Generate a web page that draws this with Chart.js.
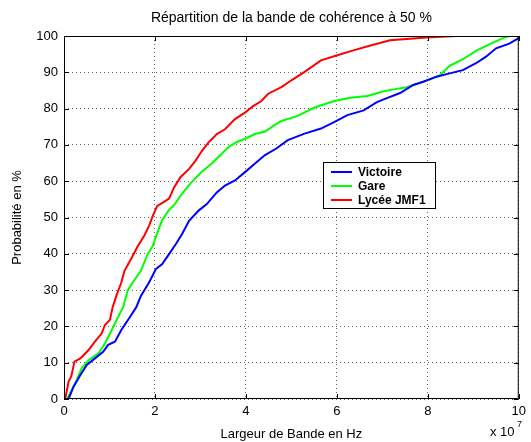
<!DOCTYPE html>
<html>
<head>
<meta charset="utf-8">
<script src="https://cdn.jsdelivr.net/npm/chart.js@4/dist/chart.umd.min.js"></script>
<style>
  html, body { margin: 0; padding: 0; background: #fff; }
  #wrap { width: 531px; height: 442px; }
</style>
</head>
<body>
<div id="wrap"><canvas id="cdf"></canvas></div>
<script>
// Répartition de la bande de cohérence à 50 % (x en unités de 1e7 Hz)
const victoireX = [0.1, 0.21, 0.36, 0.5, 0.68, 0.86, 0.97, 1.12, 1.26, 1.45, 1.59, 1.69, 1.87, 2.02, 2.16, 2.31, 2.46, 2.6, 2.75, 2.96, 3.14, 3.36, 3.54, 3.76, 3.98, 4.2, 4.42, 4.67, 4.92, 5.29, 5.65, 5.94, 6.23, 6.59, 6.88, 7.1, 7.39, 7.68, 7.9, 8.19, 8.48, 8.77, 9.06, 9.28, 9.5, 9.79, 9.97, 10];
const victoireY = [0, 3.4, 6.6, 9.4, 11.2, 13, 14.9, 15.8, 19, 22.6, 25.3, 28.4, 32.1, 35.8, 37.2, 39.9, 42.7, 45.5, 49.1, 51.9, 53.7, 56.9, 58.8, 60.2, 62.5, 64.9, 67.2, 69, 71.3, 73.1, 74.5, 76.3, 78.2, 79.5, 81.8, 82.9, 84.3, 86.5, 87.4, 88.8, 89.7, 90.6, 92.5, 94.3, 96.6, 97.9, 99.2, 99.6];

const gareX = [0.07, 0.25, 0.39, 0.54, 0.76, 0.9, 1.05, 1.19, 1.3, 1.4, 1.51, 1.69, 1.84, 1.95, 2.05, 2.16, 2.31, 2.42, 2.6, 2.78, 3.03, 3.25, 3.44, 3.62, 3.8, 3.98, 4.2, 4.42, 4.67, 4.78, 5.14, 5.51, 5.94, 6.3, 6.67, 7.03, 7.25, 7.54, 7.97, 8.26, 8.48, 8.77, 9.06, 9.35, 9.65, 9.79, 10];
const gareY = [0, 4.4, 8.5, 10.7, 12.6, 15.3, 19, 22.6, 25.3, 29.9, 32.1, 35.3, 39.9, 42.1, 45.7, 49.3, 52.1, 53.4, 56.6, 59.4, 62.6, 64.9, 67.2, 69.4, 70.8, 71.7, 73, 73.7, 75.8, 76.6, 78, 80.3, 82.1, 83, 83.5, 84.8, 85.3, 85.9, 87.7, 89.1, 91.8, 93.6, 95.9, 97.7, 99.4, 100, 100];

const lyceeX = [0, 0.03, 0.1, 0.16, 0.23, 0.36, 0.54, 0.68, 0.83, 0.9, 1.01, 1.07, 1.15, 1.26, 1.33, 1.51, 1.62, 1.76, 1.87, 1.95, 2.05, 2.2, 2.31, 2.42, 2.56, 2.75, 2.89, 3.03, 3.18, 3.36, 3.54, 3.76, 3.98, 4.16, 4.34, 4.49, 4.78, 5.0, 5.29, 5.65, 6.01, 6.38, 6.74, 7.17, 7.97, 8.63, 10];
const lyceeY = [0, 0.2, 4.8, 6.2, 10.3, 11.2, 13.5, 15.8, 18.1, 20.4, 21.8, 25.3, 28.4, 32.1, 35.3, 39.4, 42.1, 44.9, 47.7, 50.4, 53.2, 54.3, 55.2, 58.3, 61.1, 63.4, 65.6, 68.3, 70.7, 73, 74.3, 77.1, 78.9, 80.7, 82.1, 84.1, 85.9, 87.8, 90.1, 93.3, 94.7, 96.1, 97.4, 98.8, 99.6, 100, 100];

const seriesNames = ['Victoire', 'Gare', 'Lycée JMF1'];
const seriesColors = ['#0000ff', '#00ff00', '#ff0000'];
const xTicks = [0, 2, 4, 6, 8, 10];
const yTicks = [0, 10, 20, 30, 40, 50, 60, 70, 80, 90, 100];

function toPoints(xs, ys) {
    return xs.map((x, i) => ({ x: x, y: ys[i] }));
}

const FONT = '"Liberation Sans", Arial, Helvetica, sans-serif';

// box, inward ticks, title, legend, x 10^7
const matlabLook = {
    id: 'matlabLook',
    afterDraw(chart) {
        const ctx = chart.ctx;
        const a = chart.chartArea;
        const xs = chart.scales.x, ys = chart.scales.y;
        ctx.save();
        ctx.strokeStyle = '#000';
        ctx.lineWidth = 1;
        ctx.strokeRect(a.left + 0.5, a.top + 0.5, a.right - a.left - 1, a.bottom - a.top - 1);
        ctx.beginPath();
        xTicks.forEach(v => {
            const px = Math.round(xs.getPixelForValue(v)) + 0.5;
            ctx.moveTo(px, a.bottom); ctx.lineTo(px, a.bottom - 5);
            ctx.moveTo(px, a.top); ctx.lineTo(px, a.top + 5);
        });
        yTicks.forEach(v => {
            const py = Math.round(ys.getPixelForValue(v)) + 0.5;
            ctx.moveTo(a.left, py); ctx.lineTo(a.left + 5, py);
            ctx.moveTo(a.right, py); ctx.lineTo(a.right - 5, py);
        });
        ctx.stroke();

        // title
        ctx.fillStyle = '#000';
        ctx.font = '14px ' + FONT;
        ctx.textAlign = 'center';
        ctx.textBaseline = 'middle';
        ctx.fillText('Répartition de la bande de cohérence à 50 %', (a.left + a.right) / 2, 18);

        // exponent
        ctx.textAlign = 'left';
        ctx.font = '13px ' + FONT;
        ctx.fillText('x 10', 490, 432);
        ctx.font = '9px ' + FONT;
        ctx.fillText('7', 517, 425);

        // legend
        const lx = 323, ly = 162, lw = 112, lh = 46;
        ctx.fillStyle = '#fff';
        ctx.fillRect(lx, ly, lw, lh);
        ctx.strokeStyle = '#000';
        ctx.lineWidth = 1;
        ctx.strokeRect(lx + 0.5, ly + 0.5, lw, lh);
        ctx.font = 'bold 12px ' + FONT;
        ctx.textBaseline = 'middle';
        seriesNames.forEach((name, i) => {
            const y = ly + 10 + i * 14;
            ctx.strokeStyle = seriesColors[i];
            ctx.lineWidth = 2;
            ctx.beginPath();
            ctx.moveTo(lx + 8, y); ctx.lineTo(lx + 29, y);
            ctx.stroke();
            ctx.fillStyle = '#000';
            ctx.fillText(name, lx + 35, y + 1);
        });
        ctx.restore();
    }
};

new Chart(document.getElementById('cdf'), {
    type: 'line',
    data: {
        datasets: [
            { label: seriesNames[0], data: toPoints(victoireX, victoireY), borderColor: seriesColors[0] },
            { label: seriesNames[1], data: toPoints(gareX, gareY), borderColor: seriesColors[1] },
            { label: seriesNames[2], data: toPoints(lyceeX, lyceeY), borderColor: seriesColors[2] }
        ]
    },
    options: {
        responsive: true,
        maintainAspectRatio: false,
        animation: false,
        layout: { padding: { top: 36, right: 8, left: 0, bottom: 0 } },
        elements: {
            point: { radius: 0 },
            line: { borderWidth: 2, tension: 0, fill: false }
        },
        plugins: {
            legend: { display: false },
            title: { display: false },
            tooltip: { enabled: false }
        },
        scales: {
            x: {
                type: 'linear',
                min: 0, max: 10,
                afterBuildTicks: s => { s.ticks = xTicks.map(v => ({ value: v })); },
                afterFit: s => { s.height = 43; },
                grid: { color: '#666', lineWidth: 1, drawTicks: false },
                border: { display: false, dash: [1, 3] },
                ticks: { color: '#000', font: { family: FONT, size: 13 }, padding: 5, maxRotation: 0 },
                title: { display: true, text: 'Largeur de Bande en Hz', color: '#000', font: { family: FONT, size: 13 }, padding: { top: 2, bottom: 0 } }
            },
            y: {
                min: 0, max: 100,
                afterBuildTicks: s => { s.ticks = yTicks.map(v => ({ value: v })); },
                afterFit: s => { s.width = 64; },
                grid: { color: '#666', lineWidth: 1, drawTicks: false },
                border: { display: false, dash: [1, 3] },
                ticks: { color: '#000', font: { family: FONT, size: 13 }, padding: 6 },
                title: { display: true, text: 'Probabilité en %', color: '#000', font: { family: FONT, size: 13 }, padding: { top: 10, bottom: 0 } }
            }
        }
    },
    plugins: [matlabLook]
});
</script>
</body>
</html>
